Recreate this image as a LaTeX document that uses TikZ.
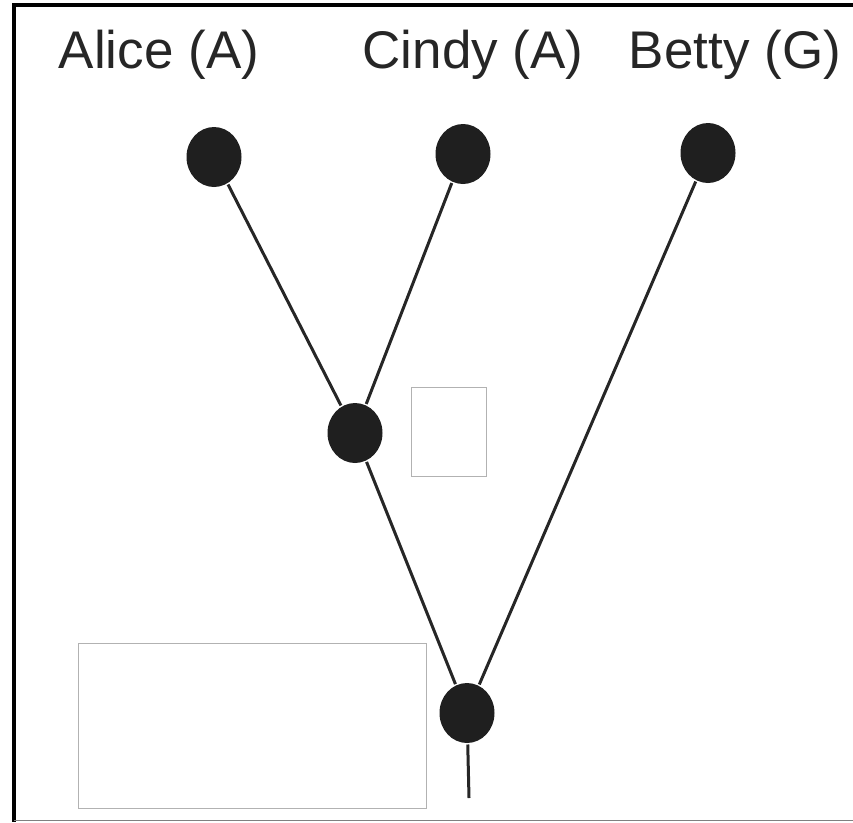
\documentclass[tikz,border=0pt]{standalone}
\usepackage{fontspec}
\setmainfont{Liberation Sans}
\usetikzlibrary{shapes.geometric}

\tikzset{
	dot/.style={ellipse, fill=black!88, minimum width=55pt, minimum height=60pt, inner sep=0pt},
	leaflabel/.style={anchor=base, font=\fontsize{53}{60}\selectfont, text=black!85, inner sep=0pt},
	blank/.style={draw=black!30, line width=1pt, fill=white}
}

\begin{document}
\begin{tikzpicture}[x=1pt, y=-1pt, line width=3pt]
	\useasboundingbox (0,0) rectangle (853,822);
	% frame
	\draw[line width=4pt] (853,5) -- (14,5) -- (14,822);
	\draw[black!50, line width=1pt] (14,820) -- (853,820);
	% labels
	\node[leaflabel] (alice) at (159,68) {Alice (A)};
	\node[leaflabel] (cindy) at (473,68) {Cindy (A)};
	\node[leaflabel] (betty) at (735,68) {Betty (G)};
	% tree
	\node[dot] (a) at (214,157) {};
	\node[dot] (c) at (463,154) {};
	\node[dot] (b) at (708,153) {};
	\node[dot] (ac) at (355,433) {};
	\node[dot] (r) at (467,713) {};
	\coordinate (stem) at (469,798);
	\draw[black!85] (a) -- (ac);
	\draw[black!85] (c) -- (ac);
	\draw[black!85] (ac) -- (r);
	\draw[black!85] (b) -- (r);
	\draw[black!85] (r) -- (stem);
	% empty boxes
	\draw[blank] (411,387) rectangle (486,476);
	\draw[blank] (78,643) rectangle (426,808);
\end{tikzpicture}
\end{document}
